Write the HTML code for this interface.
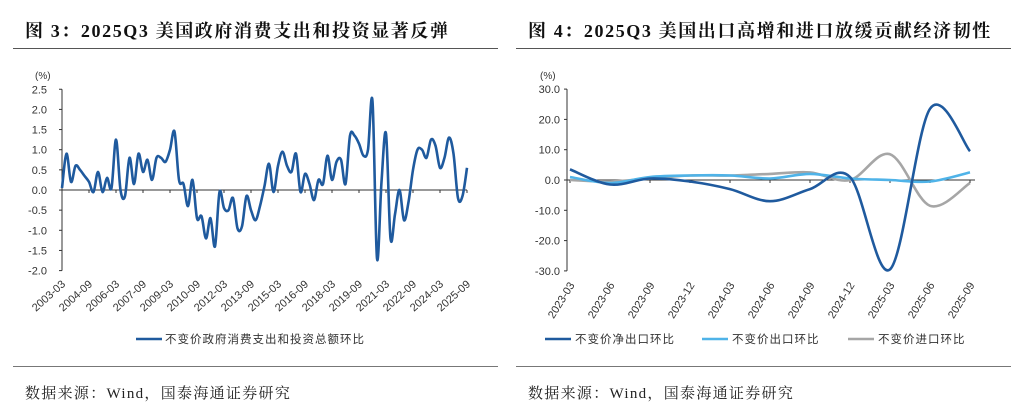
<!DOCTYPE html>
<html><head><meta charset="utf-8">
<style>
html,body{margin:0;padding:0;background:#fff;}
svg{display:block;font-family:"Liberation Sans","Noto Sans CJK SC",sans-serif;}
.title{font-family:"Liberation Serif","Noto Serif CJK SC",serif;font-weight:bold;font-size:18px;letter-spacing:1.6px;fill:#111;}
.src{font-family:"Liberation Serif","Noto Serif CJK SC",serif;font-size:15px;letter-spacing:1.3px;fill:#222;}
.tick{font-size:11px;fill:#333;}
.leg{font-size:11.5px;letter-spacing:1px;fill:#333;}
</style></head><body>
<svg id="s" width="1024" height="417" viewBox="0 0 1024 417">
<text class="title" x="25" y="37">图 3：2025Q3 美国政府消费支出和投资显著反弹</text>
<text class="title" x="528" y="37">图 4：2025Q3 美国出口高增和进口放缓贡献经济韧性</text>
<line x1="13" y1="48.5" x2="498" y2="48.5" stroke="#555"/>
<line x1="516" y1="48.5" x2="1011" y2="48.5" stroke="#555"/>
<line x1="13" y1="366.5" x2="498" y2="366.5" stroke="#777"/>
<line x1="516" y1="366.5" x2="1011" y2="366.5" stroke="#777"/>
<text class="src" x="25" y="398">数据来源：Wind，国泰海通证券研究</text>
<text class="src" x="528" y="398">数据来源：Wind，国泰海通证券研究</text>
<g id="left"></g>
<g id="right"></g>
</svg>
<script>
// Left chart data
const leftLabels=["2003-03","2004-09","2006-03","2007-09","2009-03","2010-09","2012-03","2013-09","2015-03","2016-09","2018-03","2019-09","2021-03","2022-09","2024-03","2025-09"];
const leftYTicks=[2.5,2.0,1.5,1.0,0.5,0.0,-0.5,-1.0,-1.5,-2.0];
const govValues=[0.05,0.9,0.2,0.6,0.5,0.35,0.2,-0.05,0.45,-0.05,0.3,0.05,1.25,0.0,-0.15,0.8,0.15,0.9,0.45,0.75,0.25,0.8,0.8,0.7,1.0,1.45,0.25,0.15,-0.4,0.25,-0.7,-0.65,-1.2,-0.7,-1.4,-0.05,-0.45,-0.5,-0.2,-0.95,-0.9,-0.15,-0.5,-0.75,-0.4,0.1,0.65,-0.05,0.6,0.95,0.6,0.45,0.9,-0.05,0.4,0.15,-0.25,0.25,0.15,0.85,0.25,0.7,0.75,0.15,1.35,1.35,1.15,0.85,1.0,2.2,-1.7,0.2,1.4,-1.2,-0.6,0.0,-0.75,-0.3,0.5,1.0,1.0,0.8,1.25,1.1,0.55,0.8,1.3,0.9,-0.2,-0.15,0.55];
// Right chart data
const rightLabels=["2023-03","2023-06","2023-09","2023-12","2024-03","2024-06","2024-09","2024-12","2025-03","2025-06","2025-09"];
const rightYTicks=[30,20,10,0,-10,-20,-30];
const netExports=[3.5,-1.5,0.5,-0.5,-3,-7,-3,1,-29.5,23.5,9.5];
const exportsQoQ=[1,-1,1,1.5,1.5,0.5,2,0.5,0,-0.5,2.5];
const importsQoQ=[0,-0.5,0.5,1.5,1.5,2,2.5,0,8.5,-8.5,-1];

const NS="http://www.w3.org/2000/svg";
function mk(parent,tag,attrs){const e=document.createElementNS(NS,tag);for(const k in attrs)e.setAttribute(k,attrs[k]);parent.appendChild(e);return e;}
function smooth(pts){let d="M"+pts[0][0].toFixed(1)+","+pts[0][1].toFixed(1);
 for(let i=0;i<pts.length-1;i++){const p0=pts[i-1]||pts[i],p1=pts[i],p2=pts[i+1],p3=pts[i+2]||p2;
  const c1=[p1[0]+(p2[0]-p0[0])/6,p1[1]+(p2[1]-p0[1])/6],c2=[p2[0]-(p3[0]-p1[0])/6,p2[1]-(p3[1]-p1[1])/6];
  d+="C"+c1[0].toFixed(1)+","+c1[1].toFixed(1)+" "+c2[0].toFixed(1)+","+c2[1].toFixed(1)+" "+p2[0].toFixed(1)+","+p2[1].toFixed(1);}
 return d;}

// ---- left chart
const L=document.getElementById('left');
const lx0=62,lx1=467,ly=v=>190-v*40.3;
const lxs=i=>lx0+(lx1-lx0)*i/(govValues.length-1);
let t=mk(L,'text',{x:35,y:79,'font-size':10,fill:'#333'});t.textContent='(%)';


leftYTicks.forEach(v=>{const e=mk(L,'text',{x:47,y:ly(v)+4,'text-anchor':'end',class:'tick'});e.textContent=v.toFixed(1);
 
 
 mk(L,'line',{x1:lx0-3,x2:lx0,y1:ly(v),y2:ly(v),stroke:'#333'});});
let a=mk(L,'line',{x1:lx0,x2:lx0,y1:ly(2.5),y2:ly(-2.0),stroke:'#333','stroke-width':1});


a=mk(L,'line',{x1:lx0,x2:lx1,y1:ly(0),y2:ly(0),stroke:'#333'});


leftLabels.forEach((lab,j)=>{const x=lxs(j*6);mk(L,'line',{x1:x,x2:x,y1:ly(0),y2:ly(0)+3,stroke:'#333'});
 const e=mk(L,'text',{x:x+4,y:285,'text-anchor':'end',class:'tick',transform:`rotate(-42 ${x+4} 285)`});e.textContent=lab;
 
 });
let p=mk(L,'path',{d:smooth(govValues.map((v,i)=>[lxs(i),ly(v)])),fill:'none',stroke:'#1f5a9e','stroke-width':2.6,'stroke-linejoin':'round'});


mk(L,'line',{x1:136,x2:162,y1:339,y2:339,stroke:'#1f5a9e','stroke-width':2.5});
t=mk(L,'text',{x:165,y:343,class:'leg'});t.textContent='不变价政府消费支出和投资总额环比';



// ---- right chart
const R=document.getElementById('right');
const rx0=567,rx1=975,ry=v=>180-v*3.03;
const rxs=i=>570+40*i;
t=mk(R,'text',{x:540,y:79,'font-size':10,fill:'#333'});t.textContent='(%)';


rightYTicks.forEach(v=>{const e=mk(R,'text',{x:560,y:ry(v)+4,'text-anchor':'end',class:'tick'});e.textContent=v.toFixed(1);
 
 
 mk(R,'line',{x1:rx0-3,x2:rx0,y1:ry(v),y2:ry(v),stroke:'#333'});});
a=mk(R,'line',{x1:rx0,x2:rx0,y1:ry(30),y2:ry(-30),stroke:'#333'});


a=mk(R,'line',{x1:rx0,x2:rx1,y1:ry(0),y2:ry(0),stroke:'#333'});


rightLabels.forEach((lab,j)=>{const x=rxs(j);mk(R,'line',{x1:x,x2:x,y1:ry(0),y2:ry(0)+3,stroke:'#333'});
 const e=mk(R,'text',{x:x+5,y:285,'text-anchor':'end',class:'tick',transform:`rotate(-58 ${x+5} 285)`});e.textContent=lab;
 
 });
const series=[[importsQoQ,'#a6a6a6','imports-line'],[exportsQoQ,'#4fb3e8','exports-line'],[netExports,'#1f5a9e','net-exports-line']];
series.forEach(s=>{const e=mk(R,'path',{d:smooth(s[0].map((v,i)=>[rxs(i),ry(v)])),fill:'none',stroke:s[1],'stroke-width':2.6});
 
 });
const legs=[['不变价净出口环比','#1f5a9e',545],['不变价出口环比','#4fb3e8',702],['不变价进口环比','#a6a6a6',848]];
legs.forEach(l=>{mk(R,'line',{x1:l[2],x2:l[2]+26,y1:339,y2:339,stroke:l[1],'stroke-width':2.5});
 const e=mk(R,'text',{x:l[2]+30,y:343,class:'leg'});e.textContent=l[0];
 
 });
</script>
</body></html>
